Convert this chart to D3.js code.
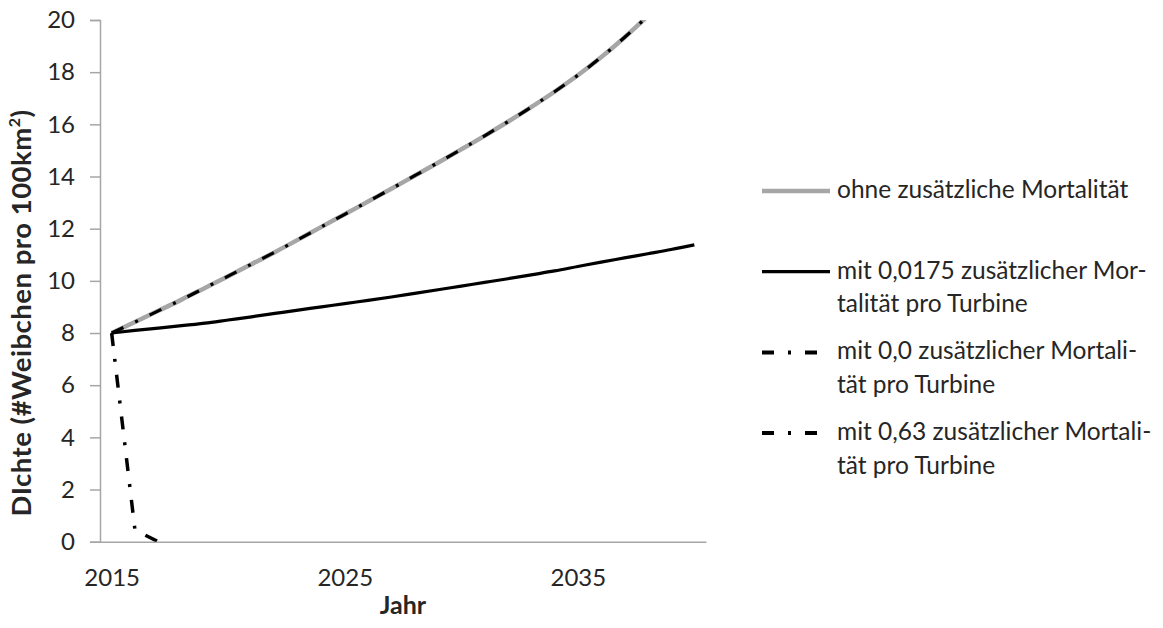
<!DOCTYPE html>
<html><head><meta charset="utf-8">
<script src="https://cdn.jsdelivr.net/npm/d3@7"></script>
<style>body{margin:0;background:#fff}svg{display:block}</style>
</head><body><svg id="c" width="1163" height="628"></svg>
<script>
// ---- data ----
const years = [2015,2016,2017,2018,2019,2020,2021,2022,2023,2024,2025,2026,2027,2028,2029,2030,2031,2032,2033,2034,2035,2036,2037,2038,2039,2040];
const ohne = [8.0,8.42,8.85,9.28,9.73,10.18,10.64,11.1,11.58,12.07,12.55,13.04,13.53,14.03,14.53,15.04,15.56,16.1,16.66,17.25,17.88,18.57,19.33,20.15,21.0,21.9];
const mit00175 = [8.0,8.1,8.19,8.28,8.38,8.5,8.62,8.75,8.88,9.0,9.13,9.25,9.38,9.52,9.66,9.8,9.94,10.08,10.23,10.38,10.55,10.72,10.88,11.04,11.2,11.38];
const mit00 = [8.0,8.42,8.85,9.28,9.73,10.18,10.64,11.1,11.58,12.07,12.55,13.04,13.53,14.03,14.53,15.04,15.56,16.1,16.66,17.25,17.88,18.57,19.33,20.15,21.0,21.9];
const mit063 = [8.0,0.45,0.0];
const yTicks = [0,2,4,6,8,10,12,14,16,18,20];
const xTickLabels = [2015,2025,2035];
const legendLines = [["ohne zusätzliche Mortalität"],["mit 0,0175 zusätzlicher Mor-","talität pro Turbine"],["mit 0,0 zusätzlicher Mortali-","tät pro Turbine"],["mit 0,63 zusätzlicher Mortali-","tät pro Turbine"]];
const yTitle = "DIchte (#Weibchen pro 100km";
const xTitle = "Jahr";

// ---- layout ----
const FONT = "Lato, 'Open Sans', sans-serif";
const TXT = "#262626";
const L = 100, R = 706, T = 20, B = 541.7;
const svg = d3.select("#c");
const x = d3.scaleLinear().domain([2014.5, 2040.5]).range([L, R]);
const y = d3.scaleLinear().domain([0, 20]).range([B, T]);

svg.append("defs").append("clipPath").attr("id","clip")
  .append("rect").attr("x",L).attr("y",T).attr("width",R-L+20).attr("height",B-T);

// axes
const gy = svg.append("g").attr("transform",`translate(${L},0)`)
  .call(d3.axisLeft(y).tickValues(yTicks).tickSize(10).tickPadding(15));
gy.select(".domain").attr("stroke","#a6a6a6").attr("stroke-width",1.5);
gy.selectAll(".tick line").attr("stroke","#a6a6a6").attr("stroke-width",1.5);
gy.selectAll(".tick text").attr("font-family",FONT).attr("font-size",24).attr("fill",TXT);

const gx = svg.append("g").attr("transform",`translate(0,${B})`)
  .call(d3.axisBottom(x).tickValues(xTickLabels).tickSize(0).tickPadding(27).tickFormat(d3.format("d")));
gx.select(".domain").attr("stroke","#a6a6a6").attr("stroke-width",1.5);
gx.selectAll(".tick text").attr("font-family",FONT).attr("font-size",24).attr("fill",TXT);

// titles
const yt = svg.append("text").attr("transform",`translate(31,313) rotate(-90)`)
  .attr("text-anchor","middle").attr("font-family",FONT).attr("font-weight","bold")
  .attr("font-size",27.5).attr("letter-spacing",0.5).attr("fill",TXT);
yt.append("tspan").text(yTitle);
yt.append("tspan").attr("font-size",16).attr("dy",-11).text("2");
yt.append("tspan").attr("dy",11).text(")");

svg.append("text").attr("x",(L+R)/2).attr("y",614).attr("text-anchor","middle")
  .attr("font-family",FONT).attr("font-weight","bold").attr("font-size",25).attr("fill",TXT).text(xTitle);

// lines
const DASH = "13,13,3,13";
const line = d3.line().curve(d3.curveMonotoneX).defined(d => d.v != null).x(d => x(d.yr)).y(d => y(d.v));
const lineStraight = d3.line().x(d => x(d.yr)).y(d => y(d.v));
const toPts = arr => arr.map((v,i) => ({yr: years[i], v}));
const plot = svg.append("g").attr("clip-path","url(#clip)");
plot.append("path").datum(toPts(ohne)).attr("d",line).attr("fill","none")
  .attr("stroke","#a6a6a6").attr("stroke-width",4.5).attr("stroke-linejoin","round");
plot.append("path").datum(toPts(mit00175)).attr("d",line).attr("fill","none")
  .attr("stroke","#000").attr("stroke-width",3.2).attr("stroke-linejoin","round");
plot.append("path").datum(toPts(mit00)).attr("d",line).attr("fill","none")
  .attr("stroke","#000").attr("stroke-width",3.2).attr("stroke-dasharray",DASH);
plot.append("path").datum(toPts(mit063)).attr("d",lineStraight).attr("fill","none")
  .attr("stroke","#000").attr("stroke-width",3.5).attr("stroke-dasharray",DASH);

// legend
const lg = svg.append("g");
const styles = [
  {c:"#a6a6a6", w:4.5, d:null, x2:830},
  {c:"#000", w:3.2, d:null, x2:830},
  {c:"#000", w:4, d:"12,14,3,14", x2:819},
  {c:"#000", w:4, d:"12,14,3,14", x2:819}
];
legendLines.forEach((lines,i) => {
  const ly = 191 + i*80.7;
  const s = styles[i];
  lg.append("line").attr("x1",762).attr("x2",s.x2).attr("y1",ly).attr("y2",ly)
    .attr("stroke",s.c).attr("stroke-width",s.w).attr("stroke-dasharray",s.d);
  const t = lg.append("text").attr("font-family",FONT).attr("font-size",24.5).attr("fill",TXT);
  lines.forEach((ln,j) => t.append("tspan").attr("x",837).attr("y",ly+7+j*33.5).text(ln));
});
</script>
</body></html>
